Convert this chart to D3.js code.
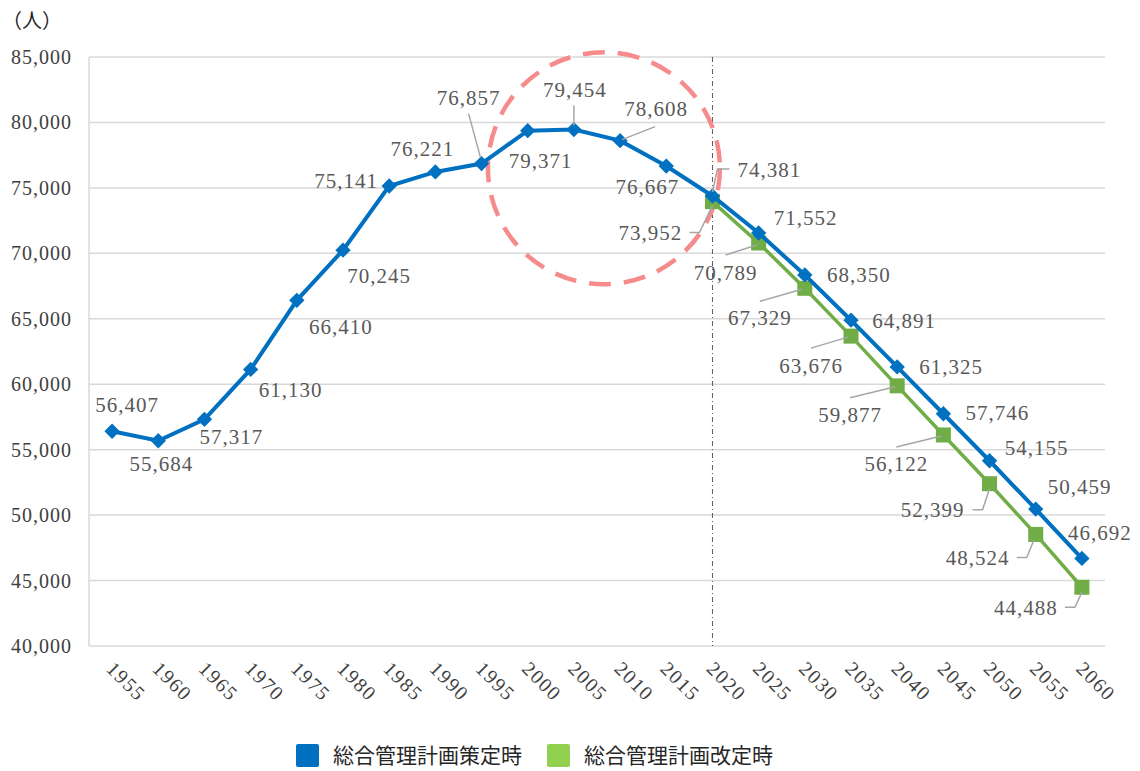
<!DOCTYPE html>
<html>
  <head>
    <meta charset="utf-8">
    <title>人口推計</title>
    <script src="https://d3js.org/d3.v7.min.js"></script>
    <style>
      body { margin: 0; background: #fff; }
      .num { font-family: "Liberation Serif", serif; font-size: 21px; letter-spacing: 1px; fill: #595959; }
      .tick-y { font-family: "Liberation Serif", serif; font-size: 20px; letter-spacing: 1px; fill: #404040; }
      .tick-x { font-family: "Liberation Serif", serif; font-size: 20px; letter-spacing: 1.5px; fill: #404040; }
      .cjk { font-family: "Noto Sans CJK JP", sans-serif; fill: #262626; }
    </style>
  </head>
  <body>
    <div id="chart"></div>
    <script>
      // data
      var years = ["1955","1960","1965","1970","1975","1980","1985","1990","1995","2000","2005",
                   "2010","2015","2020","2025","2030","2035","2040","2045","2050","2055","2060"];
      var planValues = [56407,55684,57317,61130,66410,70245,75141,76221,76857,79371,79454,
                        78608,76667,74381,71552,68350,64891,61325,57746,54155,50459,46692];
      var revisedYears = ["2020","2025","2030","2035","2040","2045","2050","2055","2060"];
      var revisedValues = [73952,70789,67329,63676,59877,56122,52399,48524,44488];
      var seriesNames = ["総合管理計画策定時", "総合管理計画改定時"];
      var yTicks = [40000,45000,50000,55000,60000,65000,70000,75000,80000,85000];
      var unitLabel = "（人）";

      // label placement (text centre relative to the point, optional leader polyline)
      var planLabelPos = [
        [15,-27],[3,23],[27,17],[40,20],[44,26],[36,26],[-43,-5],[-13,-23],
        [-13,-66,[[-13,-50],[-1,-6]]],
        [13,30],
        [1,-40,[[0,-24],[0,-4]]],
        [36,-32,[[35,-14],[2,-1]]],
        [-19,21],
        [57,-26,[[17,-27],[5,-27],[0,-4]]],
        [47,-15],[54,0],[53,0],[54,0],[54,-1],[47,-13],[44,-22],[18,-26]
      ];
      var revisedLabelPos = [
        [-62,31,[[-23,31],[-13,31],[0,4]]],
        [-33,30,[[-33,12],[-2,2]]],
        [-45,29,[[-45,13],[-3,1]]],
        [-40,30,[[-40,12],[-3,1]]],
        [-47,29,[[-47,12],[-2,1]]],
        [-47,29,[[-47,12],[-2,1]]],
        [-57,26,[[-17,26],[-7,26],[0,5]]],
        [-58,23,[[-19,23],[-9,23],[-2,6]]],
        [-56,20,[[-17,20],[-7,20],[0,5]]]
      ];

      var W = 1140, H = 771;
      var margin = {top: 57, right: 35, bottom: 125, left: 89};
      var width = W - margin.left - margin.right,
          height = H - margin.top - margin.bottom;

      var svg = d3.select("#chart").append("svg")
          .attr("width", W).attr("height", H);
      var g = svg.append("g")
          .attr("transform", "translate(" + margin.left + "," + margin.top + ")");

      var x = d3.scaleBand().domain(years).range([0, width]);
      var y = d3.scaleLinear().domain([40000, 85000]).range([height, 0]);
      var cx = function(yr) { return x(yr) + x.bandwidth() / 2; };
      var fmt = d3.format(",");

      // grid
      g.selectAll(".grid").data(yTicks).enter().append("line")
          .attr("x1", 0).attr("x2", width)
          .attr("y1", function(d) { return y(d); })
          .attr("y2", function(d) { return y(d); })
          .attr("stroke", "#d9d9d9").attr("stroke-width", 1.5);
      g.append("line").attr("x1", 0).attr("x2", 0).attr("y1", 0).attr("y2", height)
          .attr("stroke", "#d9d9d9").attr("stroke-width", 1.5);

      // y labels
      g.selectAll(".tick-y").data(yTicks).enter().append("text")
          .attr("class", "tick-y")
          .attr("x", -17).attr("y", function(d) { return y(d); })
          .attr("dy", "0.35em").attr("text-anchor", "end")
          .text(function(d) { return fmt(d); });

      // x labels (rotated)
      g.selectAll(".tick-x").data(years).enter().append("text")
          .attr("class", "tick-x")
          .attr("transform", function(d) {
            return "translate(" + (cx(d) - 2) + "," + (height + 19) + ") rotate(45)";
          })
          .attr("dy", "0.35em")
          .text(function(d) { return d; });

      // unit
      svg.append("text").attr("class", "cjk")
          .attr("x", 2).attr("y", 28).style("font-size", "20px")
          .text(unitLabel);

      // 2020 reference line
      g.append("line")
          .attr("x1", cx("2020")).attr("x2", cx("2020"))
          .attr("y1", 0).attr("y2", height)
          .attr("stroke", "#595959").attr("stroke-width", 1)
          .attr("stroke-dasharray", "5,3,1,3");

      // highlight circle
      g.append("circle")
          .attr("cx", cx("2005") + x.bandwidth() * 0.65)
          .attr("cy", y(76500))
          .attr("r", 116)
          .attr("fill", "none")
          .attr("stroke", "#f58b8b").attr("stroke-width", 4.5)
          .attr("stroke-dasharray", "22,13");

      var line = d3.line().x(function(d) { return cx(d.yr); }).y(function(d) { return y(d.v); });

      var plan = years.map(function(yr, i) { return {yr: yr, v: planValues[i], pos: planLabelPos[i]}; });
      var revised = revisedYears.map(function(yr, i) { return {yr: yr, v: revisedValues[i], pos: revisedLabelPos[i]}; });

      // revised series (drawn first)
      g.append("path").datum(revised).attr("d", line)
          .attr("fill", "none").attr("stroke", "#70ad47").attr("stroke-width", 3.5);
      g.selectAll(".sq").data(revised).enter().append("rect")
          .attr("x", function(d) { return cx(d.yr) - 7.5; })
          .attr("y", function(d) { return y(d.v) - 7.5; })
          .attr("width", 15).attr("height", 15)
          .attr("fill", "#70ad47");

      // plan series
      g.append("path").datum(plan).attr("d", line)
          .attr("fill", "none").attr("stroke", "#0070c0").attr("stroke-width", 4);
      g.selectAll(".dm").data(plan).enter().append("path")
          .attr("d", d3.symbol().type(d3.symbolDiamond2).size(150))
          .attr("transform", function(d) { return "translate(" + cx(d.yr) + "," + y(d.v) + ")"; })
          .attr("fill", "#0070c0");

      // labels + leaders
      function drawLabels(data) {
        data.forEach(function(d) {
          var px = cx(d.yr), py = y(d.v);
          if (d.pos[2]) {
            g.append("polyline")
              .attr("points", d.pos[2].map(function(p) { return (px + p[0]) + "," + (py + p[1]); }).join(" "))
              .attr("fill", "none").attr("stroke", "#a6a6a6").attr("stroke-width", 1.5);
          }
          g.append("text").attr("class", "num")
            .attr("x", px + d.pos[0]).attr("y", py + d.pos[1])
            .attr("dy", "0.35em").attr("text-anchor", "middle")
            .text(fmt(d.v));
        });
      }
      drawLabels(plan);
      drawLabels(revised);

      // legend
      var legendColors = ["#0070c0", "#92d050"];
      var legendX = [296, 547];
      seriesNames.forEach(function(name, i) {
        svg.append("rect").attr("x", legendX[i]).attr("y", 744)
          .attr("width", 23).attr("height", 23).attr("rx", 2)
          .attr("fill", legendColors[i]);
        svg.append("text").attr("class", "cjk")
          .attr("x", legendX[i] + 37).attr("y", 756).attr("dy", "0.35em")
          .style("font-size", "21px")
          .text(name);
      });
    </script>
  </body>
</html>
